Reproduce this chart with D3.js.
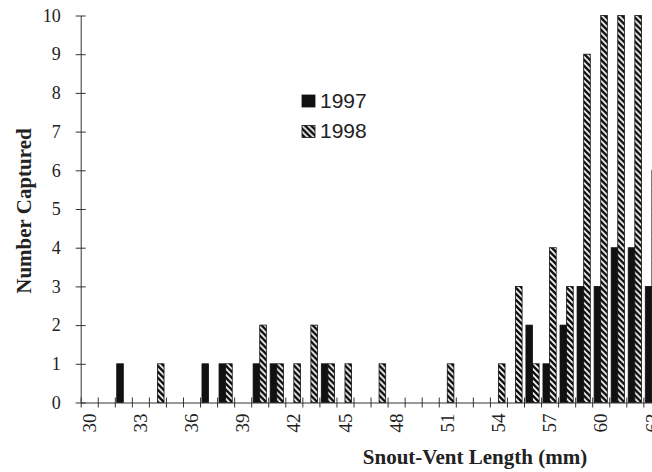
<!DOCTYPE html>
<html>
<head>
<meta charset="utf-8">
<script src="https://cdn.jsdelivr.net/npm/d3@7"></script>
<style>
  body { margin: 0; background: #fff; }
  svg { display: block; }
</style>
</head>
<body>
<div id="graph"></div>
<script>
// snout-vent length bins (mm)
let lengths = d3.range(30, 64);
let years = ["1997", "1998"];

// number captured per bin
let counts1997 = [0, 0, 1, 0, 0, 0, 0, 1, 1, 0, 1, 1, 0, 0, 1, 0, 0, 0, 0, 0, 0, 0, 0, 0, 0, 0, 2, 1, 2, 3, 3, 4, 4, 3];
let counts1998 = [0, 0, 0, 0, 1, 0, 0, 0, 1, 0, 2, 1, 1, 2, 1, 1, 0, 1, 0, 0, 0, 1, 0, 0, 1, 3, 1, 4, 3, 9, 10, 10, 10, 6];

let yTicks = d3.range(0, 11);
let xLabels = [30, 33, 36, 39, 42, 45, 48, 51, 54, 57, 60, 63];

let width = 652, height = 472;
let left = 80.7, step = 17.05;

let data = lengths.map(function(l, i) {
    return { len: l, "1997": counts1997[i], "1998": counts1998[i] };
});

let svg = d3.select("#graph")
    .append("svg")
    .attr("width", width)
    .attr("height", height);

let defs = svg.append("defs");
let pat = defs.append("pattern")
    .attr("id", "hatch")
    .attr("patternUnits", "userSpaceOnUse")
    .attr("width", 6)
    .attr("height", 6);
pat.append("rect").attr("width", 6).attr("height", 6).attr("fill", "#111");
pat.append("path")
    .attr("d", "M-1,-1 L7,7 M-4,2 L2,8 M4,-2 L8,2")
    .attr("stroke", "#fff")
    .attr("stroke-width", 1.6);

// band scale for bins, linear scale for bin boundaries
let x = d3.scaleBand()
    .domain(lengths)
    .range([left, left + lengths.length * step])
    .paddingInner(0)
    .paddingOuter(0);

let xEdge = d3.scaleLinear()
    .domain([30, 30 + lengths.length])
    .range([left, left + lengths.length * step]);

let x1 = d3.scaleBand()
    .domain(years)
    .range([0, x.bandwidth()])
    .paddingInner(0)
    .paddingOuter(0.29);

let y = d3.scaleLinear()
    .domain([0, 10])
    .range([402.5, 15.5]);

let fills = { "1997": "#111", "1998": "url(#hatch)" };

// bars
let groups = svg.append("g")
    .selectAll("g")
    .data(data)
    .enter()
    .append("g")
    .attr("transform", function(d) { return `translate(${x(d.len)},0)`; });

groups.selectAll("rect")
    .data(function(d) { return years.map(function(k) { return { key: k, value: d[k] }; }); })
    .enter()
    .filter(function(d) { return d.value > 0; })
    .append("rect")
    .attr("x", function(d) { return x1(d.key); })
    .attr("y", function(d) { return y(d.value); })
    .attr("width", x1.bandwidth())
    .attr("height", function(d) { return y(0) - y(d.value); })
    .attr("fill", function(d) { return fills[d.key]; })
    .attr("stroke", "#111")
    .attr("stroke-width", 0.8);

// x axis: tick marks at bin edges
let xAxisG = svg.append("g")
    .attr("transform", `translate(0,${y(0)})`)
    .call(d3.axisBottom(xEdge).tickValues(d3.range(30, 30 + lengths.length + 1)).tickFormat("").tickSizeOuter(0));
xAxisG.selectAll(".tick line").attr("y1", -5).attr("y2", 5);
xAxisG.select(".domain").attr("stroke", "#333");
xAxisG.selectAll("line").attr("stroke", "#333");

// x labels at bin centres, rotated
let xLabG = svg.append("g")
    .attr("transform", `translate(0,${y(0)})`)
    .call(d3.axisBottom(x).tickValues(xLabels).tickSize(0));
xLabG.select(".domain").remove();
xLabG.selectAll("text")
    .attr("transform", "rotate(-90)")
    .attr("x", -11)
    .attr("y", 0)
    .attr("dy", "0.35em")
    .style("text-anchor", "end")
    .style("font-family", "'Liberation Serif', 'Times New Roman', serif")
    .style("font-size", "19px")
    .attr("fill", "#222");

// y axis
let yAxisG = svg.append("g")
    .attr("transform", `translate(${left},0)`)
    .call(d3.axisLeft(y).tickValues(yTicks).tickSizeOuter(0).tickPadding(14));
yAxisG.selectAll(".tick line").attr("x1", -5).attr("x2", 5).attr("stroke", "#333");
yAxisG.select(".domain").attr("stroke", "#333");
yAxisG.selectAll("text")
    .style("font-family", "'Liberation Serif', 'Times New Roman', serif")
    .style("font-size", "18px")
    .attr("fill", "#222");

// axis titles
svg.append("text")
    .attr("transform", "translate(31,211) rotate(-90)")
    .style("text-anchor", "middle")
    .style("font-family", "'Liberation Serif', 'Times New Roman', serif")
    .style("font-weight", "bold")
    .style("font-size", "21px")
    .attr("fill", "#222")
    .text("Number Captured");

svg.append("text")
    .attr("x", 475)
    .attr("y", 464)
    .style("text-anchor", "middle")
    .style("font-family", "'Liberation Serif', 'Times New Roman', serif")
    .style("font-weight", "bold")
    .style("font-size", "21px")
    .attr("fill", "#222")
    .text("Snout-Vent Length (mm)");

// legend
let legend = svg.append("g").attr("transform", "translate(302,95)");
years.forEach(function(k, i) {
    let row = legend.append("g").attr("transform", `translate(0,${i * 30.5})`);
    row.append("rect")
        .attr("width", 13)
        .attr("height", 12)
        .attr("fill", fills[k])
        .attr("stroke", "#111")
        .attr("stroke-width", 0.8);
    row.append("text")
        .attr("x", 18)
        .attr("y", 12.5)
        .style("font-family", "'Liberation Sans', Arial, sans-serif")
        .style("font-size", "21px")
        .attr("fill", "#222")
        .text(k);
});
</script>
</body>
</html>
